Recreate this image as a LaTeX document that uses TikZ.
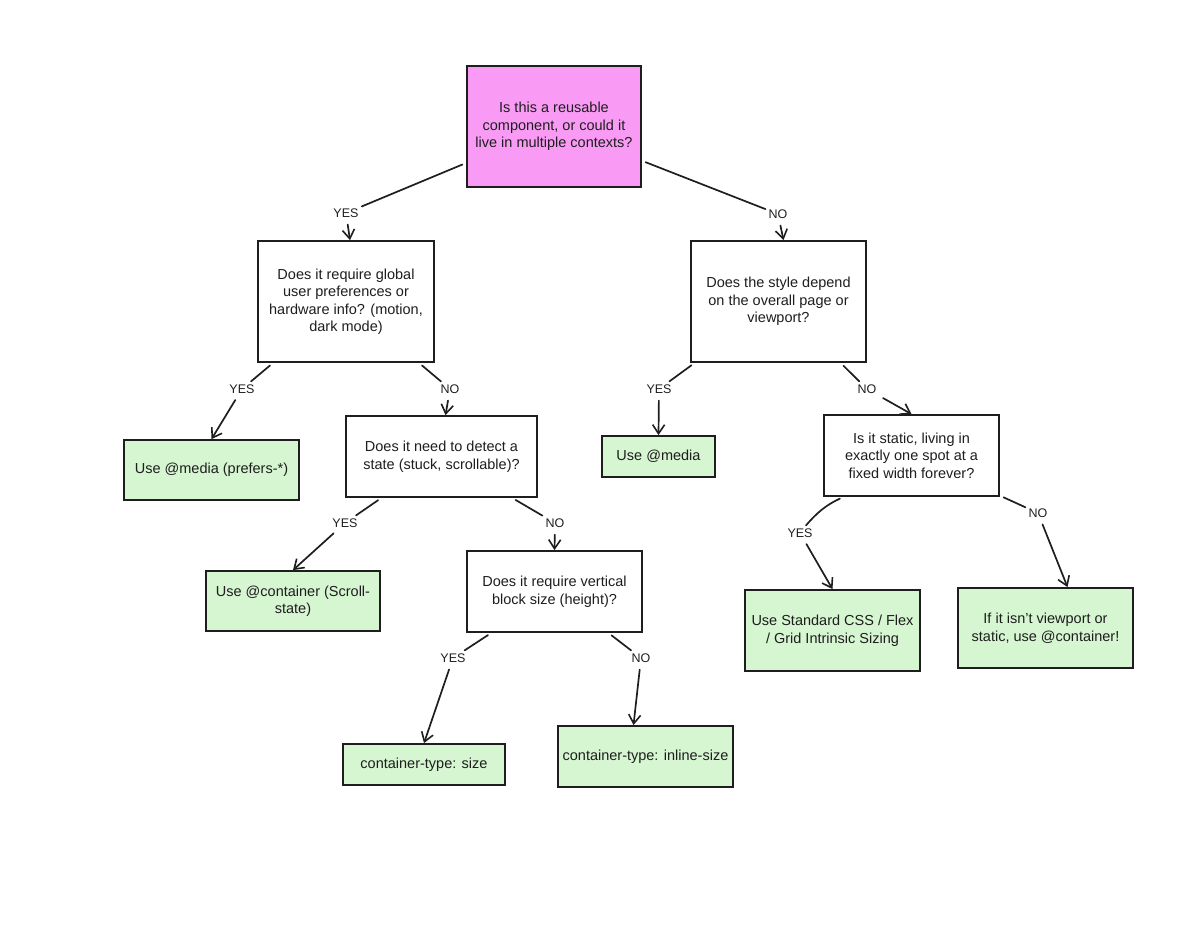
\documentclass[tikz,border=0pt]{standalone}
\usepackage{fontspec}
\setmainfont{Liberation Sans}
\usepackage{xcolor}
\definecolor{ink}{HTML}{1E1E1E}
\definecolor{rootpink}{HTML}{F99BF5}
\definecolor{leafgreen}{HTML}{D6F5D1}
\usepackage{tikz}
\usetikzlibrary{arrows.meta,positioning}

\begin{document}
\begin{tikzpicture}[
  x=1pt, y=-1pt,
  every node/.append style={font=\fontsize{14.5}{17.5}\selectfont, text=ink},
  box/.style={draw=ink, line width=1.8pt, align=center, inner sep=2pt},
  question/.style={box, fill=white},
  answer/.style={box, fill=leafgreen},
  choice/.style={font=\fontsize{12.5}{15}\selectfont, inner sep=3pt},
  link/.style={draw=ink, line width=1.7pt, line cap=round, shorten <=4pt},
  arrow/.style={link, -{Straight Barb[length=9pt,width=12pt,line width=1.6pt]}}
  ]
  \useasboundingbox (0,0) rectangle (1200,948);

  % questions
  \node[question, fill=rootpink, minimum width=174pt, minimum height=121pt] (reuse) at (554,126.5)
    {Is this a reusable\\component, or could it\\live in multiple contexts?};
  \node[question, minimum width=176pt, minimum height=121pt] (global) at (346,301.5)
    {Does it require global\\user preferences or\\hardware info? (motion,\\dark mode)};
  \node[question, minimum width=175pt, minimum height=121pt] (viewport) at (778.5,301.5)
    {Does the style depend\\on the overall page or\\viewport?};
  \node[question, minimum width=191pt, minimum height=81pt] (state) at (441.5,456.5)
    {Does it need to detect a\\state (stuck, scrollable)?};
  \node[question, minimum width=175pt, minimum height=81pt] (static) at (911.5,455.5)
    {Is it static, living in\\exactly one spot at a\\fixed width forever?};
  \node[question, minimum width=175pt, minimum height=81pt] (height) at (554.5,591.5)
    {Does it require vertical\\block size (height)?};

  % answers
  \node[answer, minimum width=175pt, minimum height=60pt] (prefers) at (211.5,470)
    {Use @media (prefers-*)};
  \node[answer, minimum width=113pt, minimum height=41pt] (media) at (658.5,456.5)
    {Use @media};
  \node[answer, minimum width=174pt, minimum height=60pt] (scroll) at (293,601)
    {Use @container (Scroll-\\state)};
  \node[answer, minimum width=175pt, minimum height=81pt] (standard) at (832.5,630.5)
    {Use Standard CSS / Flex\\/ Grid Intrinsic Sizing};
  \node[answer, minimum width=175pt, minimum height=80pt] (fallback) at (1045.5,628)
    {If it isn't viewport or\\static, use @container!};
  \node[answer, minimum width=162pt, minimum height=41pt] (size) at (424,764.5)
    {container-type: size};
  \node[answer, minimum width=175pt, minimum height=61pt] (inline) at (645.5,756.5)
    {container-type: inline-size};

  % yes / no labels
  \node[choice] (reuseyes) at (346,213) {YES};
  \node[choice] (reuseno) at (778,214) {NO};
  \node[choice] (globalyes) at (242,389) {YES};
  \node[choice] (globalno) at (450,389) {NO};
  \node[choice] (viewportyes) at (659,389) {YES};
  \node[choice] (viewportno) at (867,389) {NO};
  \node[choice] (stateyes) at (345,523) {YES};
  \node[choice] (stateno) at (555,523) {NO};
  \node[choice] (staticyes) at (800,533) {YES};
  \node[choice] (staticno) at (1038,513) {NO};
  \node[choice] (heightyes) at (453,658) {YES};
  \node[choice] (heightno) at (641,658) {NO};

  % connectors
  \draw[link] (reuse) -- (reuseyes);
  \draw[arrow] (reuseyes) -- ([xshift=4pt]global.north);
  \draw[link] (reuse) -- (reuseno);
  \draw[arrow] (reuseno) -- ([xshift=5pt]viewport.north);
  \draw[link] (global) -- (globalyes);
  \draw[arrow] (globalyes) -- (prefers.north);
  \draw[link] (global) -- (globalno);
  \draw[arrow] (globalno) -- ([xshift=4pt]state.north);
  \draw[link] (viewport) -- (viewportyes);
  \draw[arrow] (viewportyes) -- (media.north);
  \draw[link] (viewport) -- (viewportno);
  \draw[arrow] (viewportno) -- (static.north);
  \draw[link] (state) -- (stateyes);
  \draw[arrow] (stateyes) -- (scroll.north);
  \draw[link] (state) -- (stateno);
  \draw[arrow] (stateno) -- (height.north);
  \draw[link] ([xshift=-68pt]static.south) to[bend right=12] (staticyes);
  \draw[arrow] (staticyes) -- (standard.north);
  \draw[link] (static) -- (staticno);
  \draw[arrow] (staticno) -- ([xshift=22pt]fallback.north);
  \draw[link] (height) -- (heightyes);
  \draw[arrow] (heightyes) -- (size.north);
  \draw[link] (height) -- (heightno);
  \draw[arrow] (heightno) -- ([xshift=-12pt]inline.north);
\end{tikzpicture}
\end{document}
